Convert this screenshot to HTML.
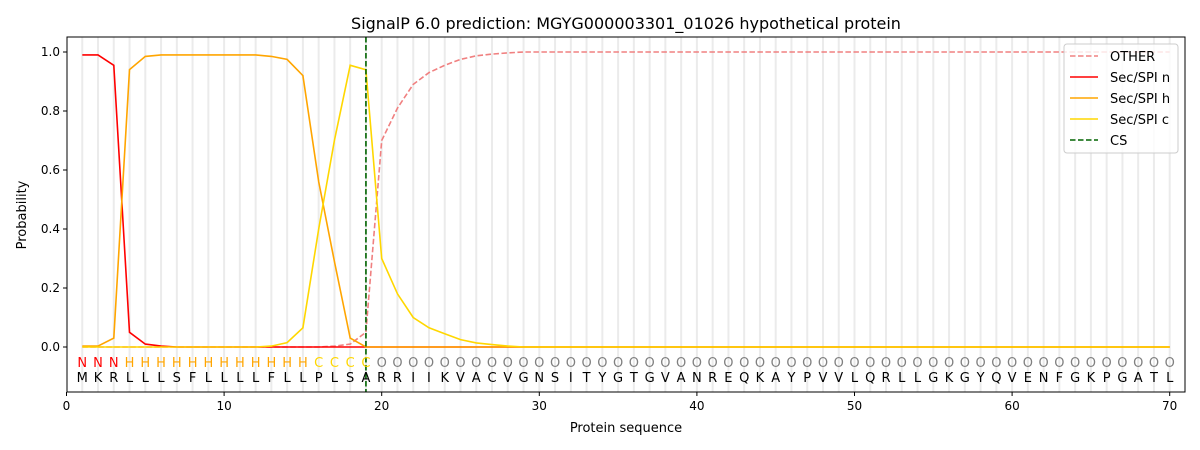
<!DOCTYPE html><html><head><meta charset="utf-8"><style>body{margin:0;background:#fff}svg{display:block;font-family:"DejaVu Sans","Liberation Sans",sans-serif}</style></head><body>
<svg id="s" width="1200" height="450" xmlns="http://www.w3.org/2000/svg"></svg>
<script>
const X=i=>66.5+i*15.76, Y=v=>347-v*295;
let h='';
const seq="MKRLLLSFLLLLFLLPLSARRIIKVACVGNSITYGTGVANREQKAYPVVLQRLLGKGYQVENFGKPGATL";
for(let i=1;i<=70;i++)h+=`<line x1="${X(i)}" x2="${X(i)}" y1="37" y2="392" stroke="#ebebeb" stroke-width="2"/>`;
const oth=[0,0,0,0,0,0,0,0,0,0,0,0,0,0,0,0,0.003,0.01,0.05,0.70,0.81,0.89,0.93,0.955,0.975,0.987,0.993,0.997];
const n=[0.99,0.99,0.955,0.05,0.01,0.003];
const hh=[0.003,0.003,0.03,0.94,0.985,0.99,0.99,0.99,0.99,0.99,0.99,0.99,0.985,0.975,0.92,0.56,0.29,0.03,0];
const c=[0,0,0,0,0,0,0,0,0,0,0,0,0.003,0.015,0.065,0.40,0.70,0.955,0.94,0.30,0.18,0.10,0.065,0.045,0.025,0.014,0.008,0.003];
function line(a,def,col,dash){let p=[];for(let i=1;i<=70;i++){let v=i<=a.length?a[i-1]:def;p.push(X(i).toFixed(1)+','+Y(v).toFixed(1));}
return `<polyline points="${p.join(' ')}" fill="none" stroke="${col}" stroke-width="1.6" ${dash?'stroke-dasharray="5.5,2.5"':''}/>`;}
h+=line(oth,1,'#f08080',1)+line(n,0,'#ff0000')+line(hh,0,'#ffa500')+line(c,0,'#ffd700');
h+=`<line x1="${X(19)}" x2="${X(19)}" y1="37" y2="392" stroke="#006400" stroke-width="1.6" stroke-dasharray="5.5,2.5"/>`;
for(let i=1;i<=70;i++){let t,col;if(i<=3){t='N';col='#ff0000'}else if(i<=15){t='H';col='#ffa500'}else if(i<=19){t='C';col='#ffd700'}else{t='O';col='#808080'}
h+=`<text x="${X(i)}" y="367" font-size="13" fill="${col}" text-anchor="middle">${t}</text><text x="${X(i)}" y="382" font-size="13" fill="#000" text-anchor="middle">${seq[i-1]}</text>`;}
h+=`<rect x="67" y="37" width="1118" height="355" fill="none" stroke="#000" stroke-width="1"/>`;
for(let k=0;k<=70;k+=10)h+=`<line x1="${X(k)}" x2="${X(k)}" y1="392" y2="396" stroke="#000"/><text x="${X(k)}" y="410" font-size="12" text-anchor="middle">${k}</text>`;
for(let k=0;k<=5;k++){let v=k*0.2;h+=`<line x1="63" x2="67" y1="${Y(v)}" y2="${Y(v)}" stroke="#000"/><text x="60" y="${Y(v)+4}" font-size="12" text-anchor="end">${v.toFixed(1)}</text>`;}
h+=`<text x="626" y="432" font-size="13" text-anchor="middle">Protein sequence</text>`;
h+=`<text transform="translate(26,215) rotate(-90)" font-size="13" text-anchor="middle">Probability</text>`;
h+=`<text x="626" y="29" font-size="16" text-anchor="middle">SignalP 6.0 prediction: MGYG000003301_01026 hypothetical protein</text>`;
h+=`<rect x="1064" y="44" width="114" height="109" rx="3" fill="#fff" fill-opacity="0.8" stroke="#ccc"/>`;
const L=[['OTHER','#f08080',1],['Sec/SPI n','#ff0000'],['Sec/SPI h','#ffa500'],['Sec/SPI c','#ffd700'],['CS','#006400',1]];
L.forEach((l,i)=>{let y=56+i*21;h+=`<line x1="1070" x2="1098" y1="${y}" y2="${y}" stroke="${l[1]}" stroke-width="1.6" ${l[2]?'stroke-dasharray="5.5,2.5"':''}/><text x="1110" y="${y+5}" font-size="13">${l[0]}</text>`;});
document.getElementById('s').innerHTML=h;
</script></body></html>
